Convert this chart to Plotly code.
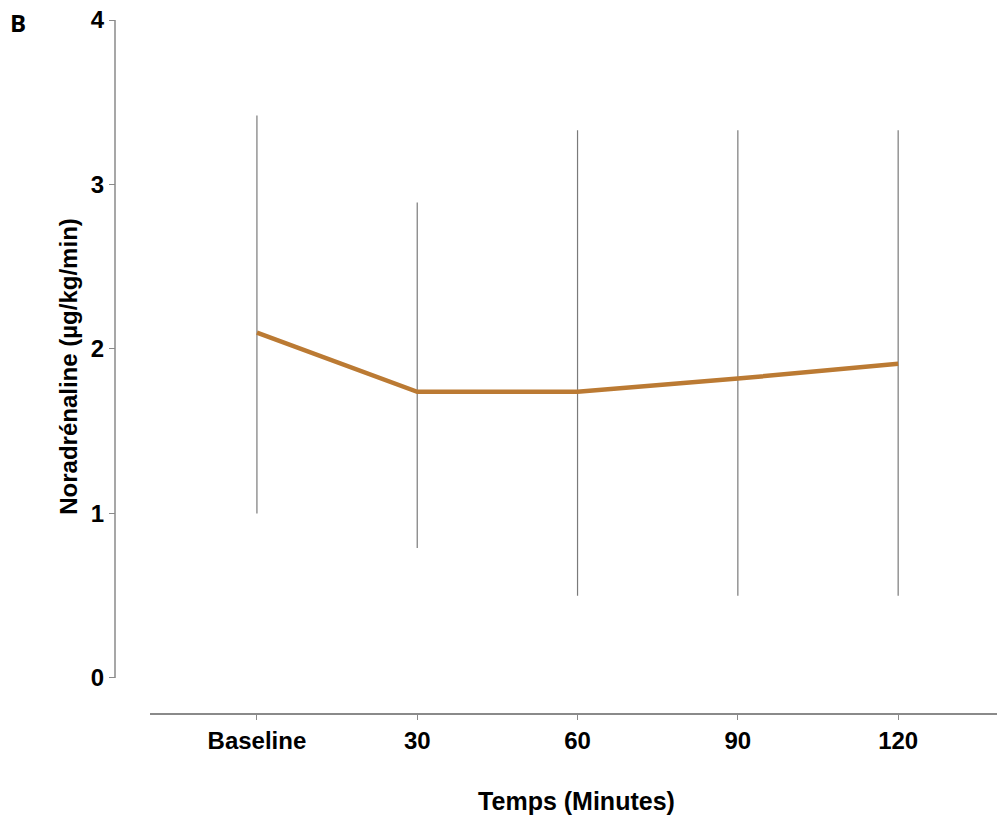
import plotly.graph_objects as go

categories = ["Baseline", "30", "60", "90", "120"]
means = [2.10, 1.74, 1.74, 1.82, 1.91]
upper = [3.42, 2.89, 3.33, 3.33, 3.33]
lower = [1.00, 0.79, 0.50, 0.50, 0.50]
y_ticks = [0, 1, 2, 3, 4]

xpos = list(range(len(categories)))
err_plus = [u - m for u, m in zip(upper, means)]
err_minus = [m - l for m, l in zip(means, lower)]

fig = go.Figure()
fig.add_trace(go.Scatter(
    x=xpos, y=means, mode="lines",
    line=dict(color="#BB7A33", width=4.5),
    error_y=dict(type="data", symmetric=False, array=err_plus, arrayminus=err_minus,
                 color="#7a7a7a", thickness=1.2, width=0),
    showlegend=False,
))

font_fam = "Liberation Sans, Arial, sans-serif"
fig.update_layout(
    width=997, height=808,
    margin=dict(l=107, r=2, t=12, b=103),
    plot_bgcolor="white", paper_bgcolor="white",
    xaxis=dict(
        domain=[35 / 888, 1], range=[-0.667, 4.654],
        tickvals=xpos, ticktext=categories, automargin=False,
        showline=True, linecolor="#8a8a8a", linewidth=1.5,
        ticks="outside", ticklen=5, tickcolor="#8a8a8a",
        showgrid=False, zeroline=False,
        tickfont=dict(family=font_fam, size=24, color="black", weight="bold"),
        title=dict(text="Temps (Minutes)", standoff=40,
                   font=dict(family=font_fam, size=25, color="black", weight="bold")),
    ),
    yaxis=dict(
        anchor="free", position=0, range=[-0.213, 4], automargin=False,
        tickvals=y_ticks, showline=False,
        ticks="outside", ticklen=6, tickcolor="#8a8a8a",
        showgrid=False, zeroline=False, ticklabeloverflow="allow",
        tickfont=dict(family=font_fam, size=24, color="black", weight="bold"),
        title=dict(text="Noradrénaline (µg/kg/min)", standoff=5,
                   font=dict(family=font_fam, size=24, color="black", weight="bold")),
    ),
    shapes=[dict(type="line", xref="paper", yref="y", x0=0, x1=0, y0=0, y1=4,
                 line=dict(color="#8a8a8a", width=1.5))],
    annotations=[dict(text="B", xref="paper", yref="paper", x=-0.109, y=0.997,
                      xanchor="center", yanchor="middle", showarrow=False,
                      font=dict(family="Open Sans, sans-serif", size=24, color="black", weight="bold"))],
)

fig.write_html("out.html")
